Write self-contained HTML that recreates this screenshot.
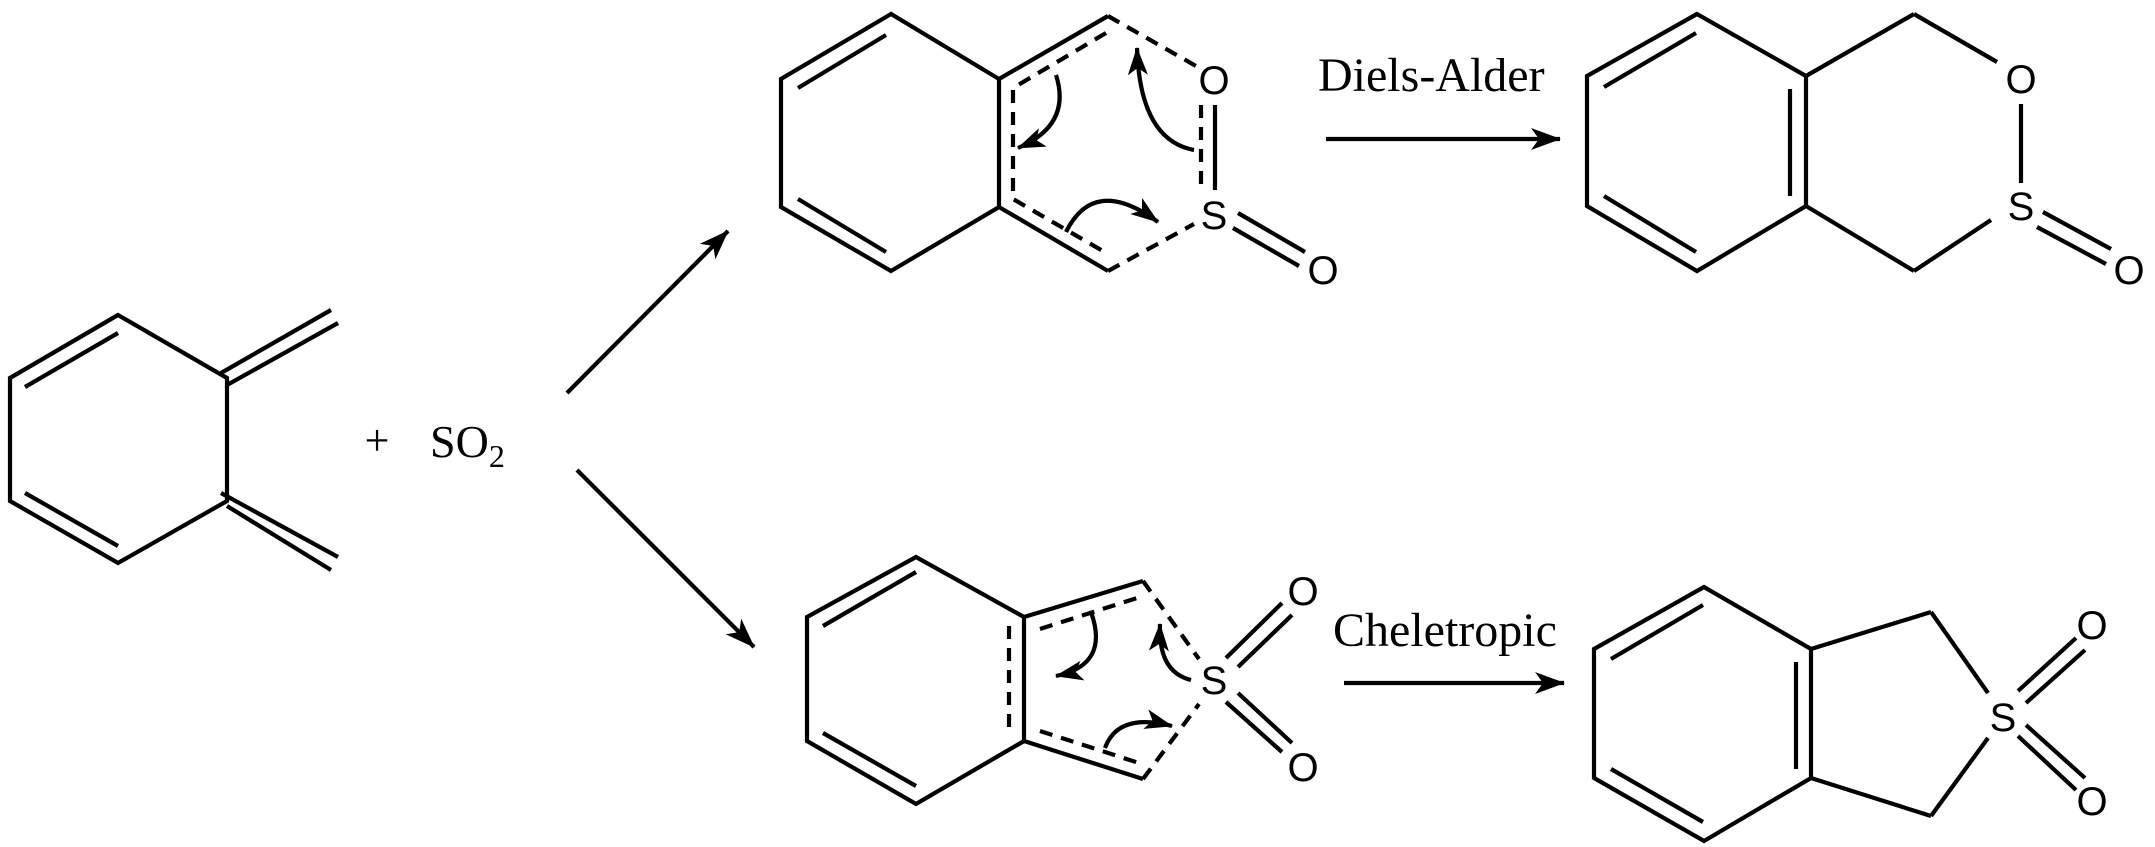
<!DOCTYPE html>
<html><head><meta charset="utf-8"><style>
html,body{margin:0;padding:0;background:#fff;}
svg{display:block}
.b{stroke:#000;stroke-width:4.2;fill:none;stroke-linecap:butt;stroke-linejoin:miter}
.d{stroke:#000;stroke-width:4.2;fill:none;stroke-dasharray:13 9}
.a{font-family:"Liberation Sans",sans-serif;font-size:40px;fill:#000;text-anchor:middle;dominant-baseline:central}
.t{font-family:"Liberation Serif",serif;fill:#000}
</style></head><body>
<svg width="2155" height="847" viewBox="0 0 2155 847" xmlns="http://www.w3.org/2000/svg">
<defs>
<marker id="big" markerWidth="30" markerHeight="22" refX="29" refY="11" orient="auto" markerUnits="userSpaceOnUse">
<path d="M0,0 L30,11 L0,22 L8,11 Z" fill="#000"/></marker>
<marker id="sm" markerWidth="28" markerHeight="20" refX="27" refY="10" orient="auto" markerUnits="userSpaceOnUse">
<path d="M0,0 L28,10 L0,20 L7,10 Z" fill="#000"/></marker>
</defs>

<!-- Left diene -->
<polygon class="b" points="118,315 10,378 10,501 118,563 227,501 227,378"/>
<line class="b" x1="25" y1="387" x2="118" y2="333"/>
<line class="b" x1="25" y1="493" x2="118" y2="546"/>
<line class="b" x1="221" y1="373" x2="331" y2="310"/>
<line class="b" x1="227" y1="385" x2="338" y2="323"/>
<line class="b" x1="221" y1="493" x2="338" y2="557"/>
<line class="b" x1="227" y1="506" x2="331" y2="570"/>
<text class="t" x="377" y="455" font-size="44" text-anchor="middle">+</text>
<text class="t" x="430" y="457" font-size="46">SO<tspan font-size="32" dy="10">2</tspan></text>

<!-- main arrows -->
<line class="b" x1="567" y1="393" x2="728" y2="231" marker-end="url(#big)"/>
<line class="b" x1="577" y1="470" x2="754" y2="647" marker-end="url(#big)"/>

<!-- upper intermediate -->
<polygon class="b" points="891,14 781,79 781,207 891,271 999,207 999,79"/>
<line class="b" x1="798" y1="88" x2="886" y2="35"/>
<line class="b" x1="798" y1="199" x2="886" y2="252"/>
<line class="b" x1="999" y1="79" x2="1108" y2="16"/>
<line class="b" x1="999" y1="207" x2="1108" y2="271"/>
<polyline class="d" points="1106,33 1013,88 1013,199 1108,254"/>
<line class="d" x1="1108" y1="16" x2="1196" y2="66"/>
<line class="d" x1="1108" y1="271" x2="1194" y2="224"/>
<line class="d" x1="1201" y1="105" x2="1201" y2="190"/>
<line class="b" x1="1215" y1="105" x2="1215" y2="190"/>
<text class="a" x="1214" y="81">O</text>
<text class="a" x="1214" y="216">S</text>
<text class="a" x="1323" y="271">O</text>
<line class="b" x1="1238" y1="213" x2="1305" y2="252"/>
<line class="b" x1="1233" y1="228" x2="1299" y2="266"/>
<path class="b" d="M1056,75 Q1072,125 1018,148" marker-end="url(#sm)"/>
<path class="b" d="M1194,150 Q1140,140 1137,48" marker-end="url(#sm)"/>
<path class="b" d="M1066,232 Q1094,175 1158,222" marker-end="url(#sm)"/>

<text class="t" x="1318" y="91" font-size="48">Diels-Alder</text>
<line class="b" x1="1326" y1="139" x2="1560" y2="139" marker-end="url(#big)"/>

<!-- upper product -->
<polygon class="b" points="1697,14 1587,76 1587,206 1697,271 1806,206 1806,76"/>
<line class="b" x1="1604" y1="87" x2="1696" y2="33"/>
<line class="b" x1="1604" y1="196" x2="1696" y2="252"/>
<line class="b" x1="1790" y1="89" x2="1790" y2="196"/>
<line class="b" x1="1806" y1="76" x2="1914" y2="14"/>
<line class="b" x1="1914" y1="14" x2="1997" y2="62"/>
<line class="b" x1="2021" y1="104" x2="2021" y2="183"/>
<line class="b" x1="1991" y1="220" x2="1914" y2="271"/>
<line class="b" x1="1914" y1="271" x2="1806" y2="206"/>
<text class="a" x="2021" y="80">O</text>
<text class="a" x="2021" y="207">S</text>
<text class="a" x="2129" y="271">O</text>
<line class="b" x1="2043" y1="212" x2="2111" y2="249"/>
<line class="b" x1="2037" y1="227" x2="2106" y2="264"/>

<!-- lower intermediate -->
<polygon class="b" points="916,557 807,617 807,741 916,804 1024,741 1024,617"/>
<line class="b" x1="823" y1="626" x2="916" y2="572"/>
<line class="b" x1="823" y1="733" x2="916" y2="786"/>
<line class="b" x1="1024" y1="617" x2="1143" y2="581"/>
<line class="b" x1="1024" y1="741" x2="1143" y2="779"/>
<line class="d" x1="1040" y1="629" x2="1137" y2="598"/>
<line class="d" x1="1040" y1="731" x2="1139" y2="763"/>
<line class="d" x1="1009" y1="626" x2="1009" y2="733"/>
<line class="d" x1="1143" y1="581" x2="1199" y2="659"/>
<line class="d" x1="1143" y1="779" x2="1199" y2="704"/>
<text class="a" x="1214" y="681">S</text>
<text class="a" x="1303" y="592">O</text>
<text class="a" x="1303" y="768">O</text>
<line class="b" x1="1226" y1="658" x2="1282" y2="603"/>
<line class="b" x1="1238" y1="667" x2="1292" y2="615"/>
<line class="b" x1="1226" y1="702" x2="1282" y2="752"/>
<line class="b" x1="1238" y1="693" x2="1292" y2="743"/>
<path class="b" d="M1091,612 Q1110,665 1056,676" marker-end="url(#sm)"/>
<path class="b" d="M1191,680 Q1158,672 1160,624" marker-end="url(#sm)"/>
<path class="b" d="M1105,748 Q1118,712 1172,726" marker-end="url(#sm)"/>

<text class="t" x="1333" y="646" font-size="48">Cheletropic</text>
<line class="b" x1="1344" y1="683" x2="1564" y2="683" marker-end="url(#big)"/>

<!-- lower product -->
<polygon class="b" points="1704,587 1594,649 1594,778 1704,841 1811,778 1811,649"/>
<line class="b" x1="1611" y1="659" x2="1703" y2="605"/>
<line class="b" x1="1611" y1="769" x2="1703" y2="822"/>
<line class="b" x1="1796" y1="662" x2="1796" y2="769"/>
<line class="b" x1="1811" y1="649" x2="1931" y2="612"/>
<line class="b" x1="1931" y1="612" x2="1988" y2="693"/>
<line class="b" x1="1988" y1="738" x2="1931" y2="816"/>
<line class="b" x1="1931" y1="816" x2="1811" y2="778"/>
<text class="a" x="2003" y="718">S</text>
<text class="a" x="2092" y="626">O</text>
<text class="a" x="2092" y="802">O</text>
<line class="b" x1="2018" y1="691" x2="2076" y2="638"/>
<line class="b" x1="2026" y1="703" x2="2085" y2="650"/>
<line class="b" x1="2018" y1="736" x2="2076" y2="790"/>
<line class="b" x1="2026" y1="725" x2="2085" y2="778"/>
</svg>
</body></html>
